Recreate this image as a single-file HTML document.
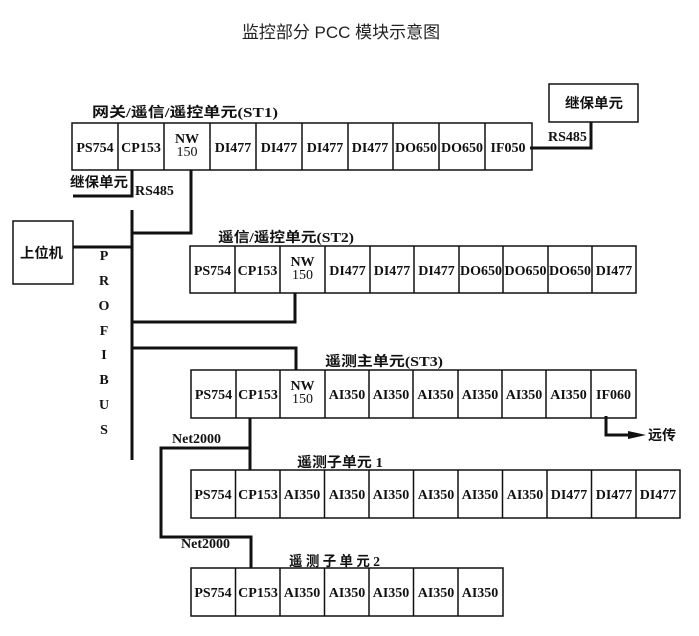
<!DOCTYPE html>
<html><head><meta charset="utf-8">
<style>
html,body{margin:0;padding:0;background:#fff;width:699px;height:636px;overflow:hidden}
svg{display:block}
.c{font-family:"Liberation Serif","Noto Serif CJK SC",serif;font-weight:bold;font-size:14px;fill:#111}
.z{font-family:"Liberation Serif","Noto Sans CJK SC",sans-serif;font-weight:bold;font-size:14px;fill:#111}
</style></head><body>
<svg width="699" height="636" viewBox="0 0 699 636" xmlns="http://www.w3.org/2000/svg">
<text x="341" y="38" text-anchor="middle" style="font-family:'Liberation Sans','Noto Sans CJK SC',sans-serif;font-size:17px;fill:#222">监控部分 PCC 模块示意图</text>
<g fill="none" stroke="#111" stroke-width="1.5">
<rect x="72" y="123" width="460" height="47"/>
<path d="M118 123V170M164 123V170M210 123V170M256 123V170M302 123V170M348 123V170M393 123V170M439 123V170M485 123V170"/>
<rect x="549" y="84" width="89" height="38"/>
<rect x="13" y="221" width="60" height="63"/>
<rect x="190" y="246" width="446" height="47"/>
<path d="M235 246V293M280 246V293M325 246V293M370 246V293M414 246V293M459 246V293M503 246V293M548 246V293M592 246V293"/>
<rect x="191" y="370" width="445" height="48"/>
<path d="M236 370V418M280 370V418M325 370V418M369 370V418M413 370V418M458 370V418M502 370V418M546 370V418M591 370V418"/>
<rect x="191" y="470" width="489" height="48"/>
<path d="M235.5 470V518M280 470V518M324.5 470V518M369 470V518M413.5 470V518M458 470V518M502.5 470V518M547 470V518M591.5 470V518M636 470V518"/>
<rect x="191" y="568" width="312" height="48"/>
<path d="M235.5 568V616M280 568V616M324.5 568V616M369 568V616M413.5 568V616M458 568V616"/>
</g>
<g fill="none" stroke="#111" stroke-width="3">
<path d="M530 148H591V122"/>
<path d="M132 170V196H73"/>
<path d="M132 210V460"/>
<path d="M191 170V233H132"/>
<path d="M73 247H132"/>
<path d="M295 293V322H132"/>
<path d="M132 348H296V370"/>
<path d="M250 418V470"/>
<path d="M250 448H161V537H251V568"/>
<path d="M606 416V435H630"/>
</g>
<polygon points="628,431 646,435 628,439" fill="#111"/>
<text class="z" x="92" y="117" textLength="186" lengthAdjust="spacingAndGlyphs">网关/遥信/遥控单元(ST1)</text>
<text class="z" x="218" y="242" textLength="136" lengthAdjust="spacingAndGlyphs">遥信/遥控单元(ST2)</text>
<text class="z" x="325" y="366" textLength="118" lengthAdjust="spacingAndGlyphs">遥测主单元(ST3)</text>
<text class="z" x="297" y="467" textLength="86" lengthAdjust="spacingAndGlyphs">遥测子单元 1</text>
<text class="z" x="289" y="566" textLength="91" lengthAdjust="spacingAndGlyphs">遥 测 子 单 元 2</text>
<text class="z" x="565" y="108" textLength="58" lengthAdjust="spacingAndGlyphs">继保单元</text>
<text class="z" x="20" y="258" textLength="43" lengthAdjust="spacingAndGlyphs">上位机</text>
<text class="z" x="70" y="187" textLength="58" lengthAdjust="spacingAndGlyphs">继保单元</text>
<text class="c" x="135" y="195">RS485</text>
<text class="c" x="548" y="141">RS485</text>
<text class="c" x="172" y="443">Net2000</text>
<text class="c" x="181" y="548">Net2000</text>
<text class="z" x="648" y="440">远传</text>
<g class="c" text-anchor="middle">
<text x="104" y="260">P</text><text x="104" y="285">R</text><text x="104" y="310">O</text><text x="104" y="335">F</text><text x="104" y="359">I</text><text x="104" y="384">B</text><text x="104" y="409">U</text><text x="104" y="434">S</text>
</g>
<g class="c" text-anchor="middle">
<text x="95" y="152">PS754</text><text x="141" y="152">CP153</text>
<text x="187" y="143">NW</text><text x="187" y="156" style="font-weight:normal">150</text>
<text x="233" y="152">DI477</text><text x="279" y="152">DI477</text><text x="325" y="152">DI477</text><text x="370" y="152">DI477</text>
<text x="416" y="152">DO650</text><text x="462" y="152">DO650</text><text x="508" y="152">IF050</text>
<text x="212.5" y="275">PS754</text><text x="257.5" y="275">CP153</text>
<text x="302.5" y="266">NW</text><text x="302.5" y="279" style="font-weight:normal">150</text>
<text x="347.5" y="275">DI477</text><text x="392" y="275">DI477</text><text x="436.5" y="275">DI477</text>
<text x="481" y="275">DO650</text><text x="525.5" y="275">DO650</text><text x="570" y="275">DO650</text><text x="614" y="275">DI477</text>
<text x="213.5" y="399">PS754</text><text x="258" y="399">CP153</text>
<text x="302.5" y="390">NW</text><text x="302.5" y="403" style="font-weight:normal">150</text>
<text x="347" y="399">AI350</text><text x="391" y="399">AI350</text><text x="435.5" y="399">AI350</text>
<text x="480" y="399">AI350</text><text x="524" y="399">AI350</text><text x="568.5" y="399">AI350</text><text x="613.5" y="399">IF060</text>
<text x="213" y="499">PS754</text><text x="258" y="499">CP153</text><text x="302" y="499">AI350</text><text x="347" y="499">AI350</text>
<text x="391" y="499">AI350</text><text x="436" y="499">AI350</text><text x="480" y="499">AI350</text><text x="525" y="499">AI350</text>
<text x="569" y="499">DI477</text><text x="614" y="499">DI477</text><text x="658" y="499">DI477</text>
<text x="213" y="597">PS754</text><text x="258" y="597">CP153</text><text x="302" y="597">AI350</text><text x="347" y="597">AI350</text>
<text x="391" y="597">AI350</text><text x="436" y="597">AI350</text><text x="480" y="597">AI350</text>
</g>
</svg>
</body></html>
